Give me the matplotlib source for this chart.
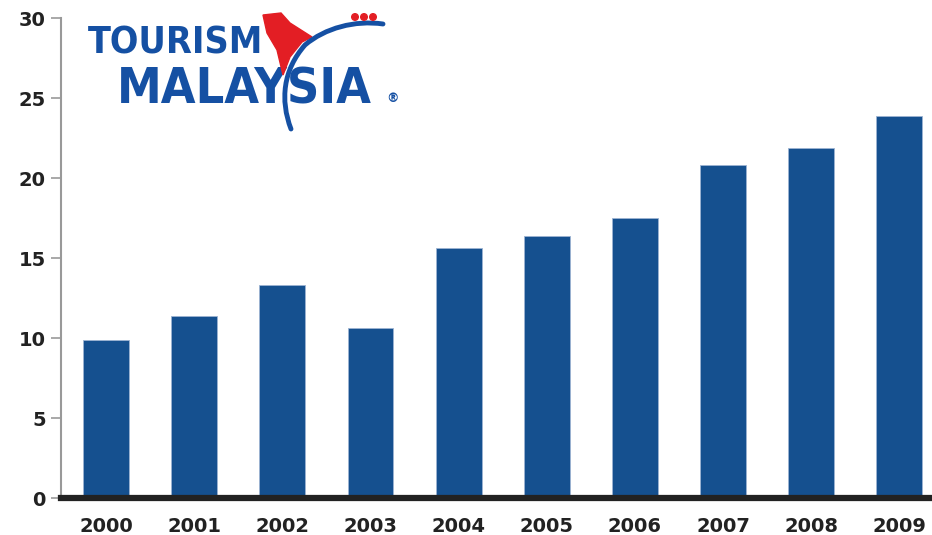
import matplotlib.pyplot as plt
from matplotlib.patches import Polygon, Circle, PathPatch
from matplotlib.path import Path

# 관광객 수 (백만 명)
years = ['2000', '2001', '2002', '2003', '2004', '2005', '2006', '2007', '2008', '2009']
arrivals = [9.9, 11.4, 13.3, 10.6, 15.6, 16.4, 17.5, 20.8, 21.9, 23.9]
y_ticks = [0, 5, 10, 15, 20, 25, 30]

bar_color = '#15508f'
logo_blue = '#1550a3'
logo_red = '#e31e24'

fig = plt.figure(figsize=(9.32, 5.35), dpi=100)
ax = fig.add_axes([61 / 932, 37 / 535, 1 - 61 / 932, (498 - 18) / 535])

x = range(len(years))
ax.bar(x, arrivals, width=0.52, color=bar_color, edgecolor='#9db4d3', linewidth=0.6, zorder=2)

ax.set_ylim(0, 30)
ax.set_xlim(-0.51, 9.37)
ax.set_yticks(y_ticks)
ax.set_xticks(list(x))
ax.set_xticklabels(years)

for s in ['top', 'right']:
    ax.spines[s].set_visible(False)
ax.spines['left'].set_color('#999999')
ax.spines['left'].set_linewidth(1.5)
ax.spines['bottom'].set_color('#222222')
ax.spines['bottom'].set_linewidth(4.5)
ax.spines['bottom'].set_zorder(3)

ax.tick_params(axis='y', length=7, width=1.2, color='#999999', pad=4,
               labelsize=14, labelcolor='#222222')
ax.tick_params(axis='x', length=0, pad=14, labelsize=14, labelcolor='#222222')
for lbl in ax.get_xticklabels() + ax.get_yticklabels():
    lbl.set_fontweight('heavy')

# 로고 (픽셀 좌표)
lg = fig.add_axes([0, 0, 1, 1], zorder=5)
lg.set_xlim(0, 932)
lg.set_ylim(535, 0)
lg.axis('off')
lg.patch.set_alpha(0)

lg.text(88, 54, 'TOURISM', fontsize=27, fontweight='heavy', fontstretch='condensed',
        family='DejaVu Sans', color=logo_blue, va='baseline', ha='left')
lg.text(117, 103, 'MALAYSIA', fontsize=36, fontweight='heavy', fontstretch='condensed',
        family='DejaVu Sans', color=logo_blue, va='baseline', ha='left')

red_shape = [(263, 15), (281, 13), (290, 23), (312, 37), (302, 42), (290, 57),
             (283, 75), (277, 50), (267, 33)]
lg.add_patch(Polygon(red_shape, closed=True, color=logo_red, zorder=6))

arc = Path([(291, 129), (280, 100), (283, 70), (305, 45), (325, 28), (355, 20), (383, 24)],
           [Path.MOVETO, Path.CURVE4, Path.CURVE4, Path.CURVE4, Path.CURVE4, Path.CURVE4, Path.CURVE4])
lg.add_patch(PathPatch(arc, fill=False, edgecolor=logo_blue, linewidth=3.5, capstyle='round', zorder=7))

for cx in (355, 364, 373):
    lg.add_patch(Circle((cx, 17), 3.3, color=logo_red, zorder=7))
lg.text(392, 98, '®', fontsize=9, color=logo_blue, ha='center', va='center', fontweight='bold')

fig.savefig('out.png', dpi=100)
